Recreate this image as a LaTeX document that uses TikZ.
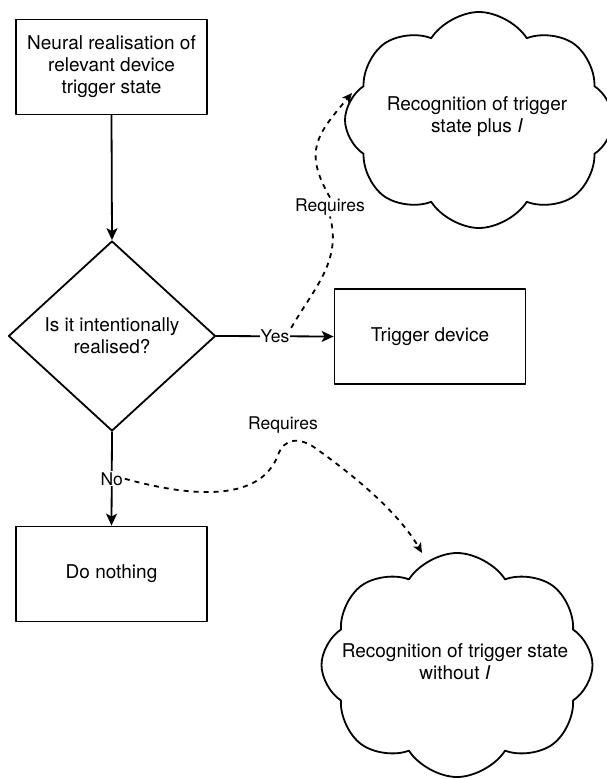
\documentclass[tikz,border=0pt]{standalone}
\usepackage{fontspec}
\setmainfont{TeX Gyre Heros}
\usetikzlibrary{shapes.geometric,shapes.symbols,arrows.meta}

\begin{document}
\begin{tikzpicture}[line cap=round,line join=round,>={Stealth[length=12pt,width=11pt,inset=3pt]},x=1pt,y=-1pt]
\tikzstyle{mainfont}=[font=\fontsize{19}{22}\selectfont]
\tikzstyle{box}=[draw,line width=1.8pt,rectangle,minimum width=191pt,minimum height=95pt,align=center,mainfont]
\tikzstyle{lbl}=[fill=white,inner sep=1pt,font=\fontsize{17.5}{20}\selectfont]
\tikzstyle{puff}=[draw,line width=1.8pt,cloud,cloud puffs=8,cloud puff arc=115,inner sep=0pt]
\tikzstyle{flow}=[->,line width=1.8pt]
\tikzstyle{needs}=[line width=1.8pt,dash pattern=on 5pt off 5pt,line cap=butt]
\useasboundingbox (0,0) rectangle (606,779);
% main flow
\node[box] (neural) at (111.5,67) {Neural realisation of\\relevant device\\trigger state};
\node[draw,diamond,line width=1.8pt,minimum width=207pt,minimum height=190pt,inner sep=0pt,align=center,mainfont] (decide) at (112,336) {Is it intentionally\\realised?};
\node[box] (trigger) at (430,336.5) {Trigger device};
\node[box] (nothing) at (111.5,574) {Do nothing};
\draw[flow] (neural.south) -- (decide.north);
\draw[flow] (decide.east) -- node[lbl] (yes) {Yes} (trigger.west);
\draw[flow] (decide.south) -- node[lbl] (no) {No} (nothing.north);
% clouds
\node[puff,minimum width=268pt,minimum height=216pt] (cloudA) at (479,120) {};
\node[align=center,mainfont] (textA) at (477,117) {Recognition of trigger\\state plus \textit{I}};
\node[puff,minimum width=271pt,minimum height=224pt] (cloudB) at (457,665) {};
\node[align=center,mainfont] (textB) at (455,662) {Recognition of trigger state\\without \textit{I}};
%\draw (cloudA.west) circle (2pt);
\coordinate (tipA) at (352,93);
\coordinate (tipB) at (422,553);
% requires links
\node[lbl] (req1) at (330,207) {Requires};
\node[lbl] (req2) at (283,425) {Requires};
\draw[needs] (yes.north east) to[out=60,in=-75] (req1.south);
\draw[needs,-{Stealth[length=10pt,width=9pt,inset=2.5pt]}] (req1.north) to[out=120,in=-130,looseness=1.3] (tipA);
\draw[needs,-{Stealth[length=10pt,width=9pt,inset=2.5pt]}] (no.east) .. controls (220,505) and (265,490) .. (278,455) .. controls (284,438) and (300,436) .. (318,450) .. controls (360,480) and (400,515) .. (tipB);
\end{tikzpicture}
\end{document}
